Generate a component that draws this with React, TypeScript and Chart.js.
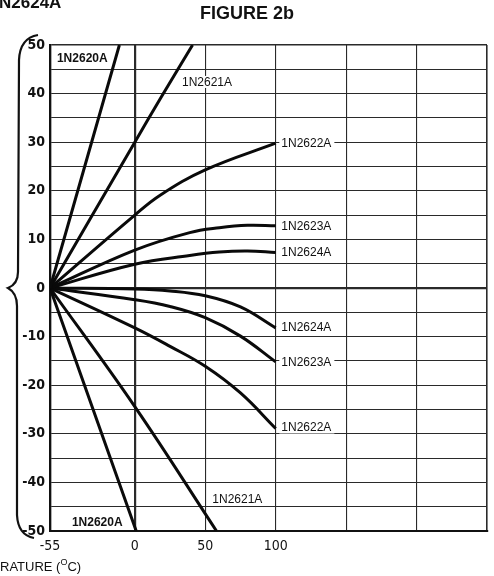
import React, { useEffect, useRef } from "react";
import { Chart, registerables, LinearScale } from "chart.js";

Chart.register(...registerables);

// ---------- data (temperature °C → % change) ----------
const X_TICKS = [-55, 0, 50, 100, 150, 200, 250];
const X_TICK_LABELS = ["-55", "0", "50", "100", "", "", ""];
const Y_LABEL_STEP = 10;

const pos2620T = [-55, -10];
const pos2620V = [0, 50];
const pos2621T = [-55, 0, 19, 41];
const pos2621V = [0, 30, 39.4, 50];
const pos2622T = [-55, 0, 18, 50, 100];
const pos2622V = [0, 15, 19.1, 24.3, 29.8];
const pos2623T = [-55, 0, 39, 60, 80, 100];
const pos2623V = [0, 7.8, 11.4, 12.4, 12.9, 12.8];
const pos2624T = [-55, 0, 39, 60, 80, 100];
const pos2624V = [0, 4.9, 6.7, 7.4, 7.6, 7.3];
const neg2624T = [-55, 0, 25, 50, 75, 100];
const neg2624V = [0, -0.2, -0.6, -1.6, -3.9, -8.2];
const neg2623T = [-55, 0, 25, 50, 75, 100];
const neg2623V = [0, -2.4, -3.8, -6.1, -9.9, -15.2];
const neg2622T = [-55, 0, 25, 50, 75, 100];
const neg2622V = [0, -8.2, -12.0, -16.1, -21.6, -28.9];
const neg2621T = [-55, 0, 58];
const neg2621V = [0, -24.4, -50];
const neg2620T = [-55, 1];
const neg2620V = [0, -50];

const SERIES = [
  [pos2620T, pos2620V],
  [pos2621T, pos2621V],
  [pos2622T, pos2622V],
  [pos2623T, pos2623V],
  [pos2624T, pos2624V],
  [neg2624T, neg2624V],
  [neg2623T, neg2623V],
  [neg2622T, neg2622V],
  [neg2621T, neg2621V],
  [neg2620T, neg2620V],
];

const LABEL_TEXTS = ["1N2620A", "1N2621A", "1N2622A", "1N2623A", "1N2624A", "1N2624A", "1N2623A", "1N2622A", "1N2621A", "1N2620A"];
const LABEL_T = [-50.5, 33.5, 104, 104, 104, 104, 104, 104, 55, -40.8];
const LABEL_V = [47.3, 42.4, 29.7, 12.8, 7.4, -8.0, -15.2, -28.7, -43.4, -48.1];
const LABEL_BOLD = [true, false, false, false, false, false, false, false, false, true];

// ---------- piecewise x scale (-55..0 stretched like the original paper) ----------
const BREAK_VALUE = 0;
const BREAK_FRACTION = 85 / 438;

class BrokenLinearScale extends LinearScale {
  static id = "brokenLinear";
  static defaults = (LinearScale as any).defaults;
  getPixelForValue(value: number) {
    if (value === null || value === undefined || isNaN(value)) return NaN;
    const min = (this as any).min;
    const max = (this as any).max;
    let d: number;
    if (value <= BREAK_VALUE) d = (BREAK_FRACTION * (value - min)) / (BREAK_VALUE - min);
    else d = BREAK_FRACTION + ((1 - BREAK_FRACTION) * (value - BREAK_VALUE)) / (max - BREAK_VALUE);
    return (this as any).getPixelForDecimal(d);
  }
  getValueForPixel(pixel: number) {
    const min = (this as any).min;
    const max = (this as any).max;
    const d = (this as any).getDecimalForPixel(pixel);
    if (d <= BREAK_FRACTION) return min + (d / BREAK_FRACTION) * (BREAK_VALUE - min);
    return BREAK_VALUE + ((d - BREAK_FRACTION) / (1 - BREAK_FRACTION)) * (max - BREAK_VALUE);
  }
}
Chart.register(BrokenLinearScale as any);

const NARROW = "'Liberation Sans Narrow', 'DejaVu Sans Condensed', 'Liberation Sans', sans-serif";
const SANS = "'Liberation Sans', Arial, sans-serif";

const decorPlugin = {
  id: "decor",
  afterDatasetsDraw(chart: any) {
    const ctx = chart.ctx;
    const xs = chart.scales.x;
    const ys = chart.scales.y;
    ctx.save();
    // curve labels
    ctx.textBaseline = "middle";
    ctx.textAlign = "left";
    LABEL_TEXTS.forEach((t, i) => {
      ctx.font = (LABEL_BOLD[i] ? "bold " : "") + "12px " + SANS;
      const x = xs.getPixelForValue(LABEL_T[i]);
      const y = ys.getPixelForValue(LABEL_V[i]);
      const w = ctx.measureText(t).width;
      ctx.fillStyle = "#fff";
      ctx.fillRect(x - 2, y - 6, w + 5, 12);
      ctx.fillStyle = "#111";
      ctx.fillText(t, x, y + 0.5);
    });
    ctx.restore();
  },
  afterDraw(chart: any) {
    const ctx = chart.ctx;
    ctx.save();
    ctx.fillStyle = "#111";
    // title
    ctx.font = "bold 18px " + SANS;
    ctx.textAlign = "center";
    ctx.textBaseline = "middle";
    ctx.fillText("FIGURE 2b", 247, 14);
    // cropped heading
    ctx.textAlign = "left";
    ctx.textBaseline = "alphabetic";
    ctx.font = "bold 17px " + SANS;
    ctx.fillText("N2624A", -1, 8);
    // cropped axis title
    ctx.font = "13px " + SANS;
    ctx.textBaseline = "middle";
    const part1 = "RATURE (";
    ctx.fillText(part1, 0, 567);
    let x = ctx.measureText(part1).width;
    ctx.font = "9px " + SANS;
    ctx.fillText("O", x, 563);
    x += ctx.measureText("O").width;
    ctx.font = "13px " + SANS;
    ctx.fillText("C)", x, 567);
    // brace
    ctx.strokeStyle = "#111";
    ctx.lineWidth = 2.2;
    ctx.beginPath();
    ctx.moveTo(38, 35);
    ctx.quadraticCurveTo(20, 38, 19, 60);
    ctx.lineTo(18, 272);
    ctx.quadraticCurveTo(18, 284, 8, 288);
    ctx.quadraticCurveTo(17, 293, 17, 306);
    ctx.lineTo(17, 515);
    ctx.quadraticCurveTo(18, 535, 34, 538);
    ctx.stroke();
    ctx.restore();
  },
};

export default function App() {
  const ref = useRef<HTMLCanvasElement | null>(null);
  useEffect(() => {
    if (!ref.current) return;
    const chart = new Chart(ref.current, {
      type: "line",
      data: {
        datasets: SERIES.map(([ts, vs], i) => ({
          label: "s" + i,
          data: ts.map((t, j) => ({ x: t, y: vs[j] })),
          borderColor: "#0a0a0a",
          borderWidth: 3,
          pointRadius: 0,
          fill: false,
          tension: 0.4,
          borderCapStyle: "butt" as const,
        })),
      },
      options: {
        animation: false,
        responsive: false,
        maintainAspectRatio: false,
        events: [],
        layout: { padding: { left: 0, right: 6, top: 45, bottom: 0 } },
        plugins: {
          legend: { display: false },
          tooltip: { enabled: false },
          title: { display: false },
        },
        scales: {
          x: {
            type: "brokenLinear" as any,
            min: -55,
            max: 250,
            afterBuildTicks: (s: any) => {
              s.ticks = X_TICKS.map((v) => ({ value: v }));
            },
            afterFit: (s: any) => {
              s.height = 45;
            },
            ticks: {
              autoSkip: false,
              maxRotation: 0,
              minRotation: 0,
              padding: 7,
              color: "#111",
              font: { family: NARROW, size: 14 },
              callback: (v: any) => {
                const i = X_TICKS.indexOf(Number(v));
                return i >= 0 ? X_TICK_LABELS[i] : "";
              },
            },
            grid: {
              drawTicks: false,
              color: "#2a2a2a",
              lineWidth: (c: any) => {
                const v = c.tick && c.tick.value;
                if (v === 0) return 2.2;
                if (v === -55) return 2.2;
                if (v === 250) return 1.6;
                return 1.1;
              },
            },
            border: { display: true, color: "#111", width: 2 },
          } as any,
          y: {
            type: "linear",
            min: -50,
            max: 50,
            afterFit: (s: any) => {
              s.width = 50;
            },
            ticks: {
              stepSize: 5,
              autoSkip: false,
              padding: 5,
              color: "#111",
              font: { family: NARROW, size: 14, weight: "bold" },
              callback: (v: any) => (Number(v) % Y_LABEL_STEP === 0 ? String(v) : ""),
            },
            grid: {
              drawTicks: false,
              color: "#2a2a2a",
              lineWidth: (c: any) => {
                const v = c.tick && c.tick.value;
                if (v === 0) return 2.2;
                if (v === 50) return 1.6;
                return 1.1;
              },
            },
            border: { display: true, color: "#111", width: 2.2 },
          },
        },
      },
      plugins: [decorPlugin],
    });
    return () => chart.destroy();
  }, []);
  return (
    <div style={{ position: "absolute", left: 0, top: 0, width: 494, height: 576, background: "#fff" }}>
      <canvas ref={ref} width={494} height={576} style={{ display: "block" }} />
    </div>
  );
}
